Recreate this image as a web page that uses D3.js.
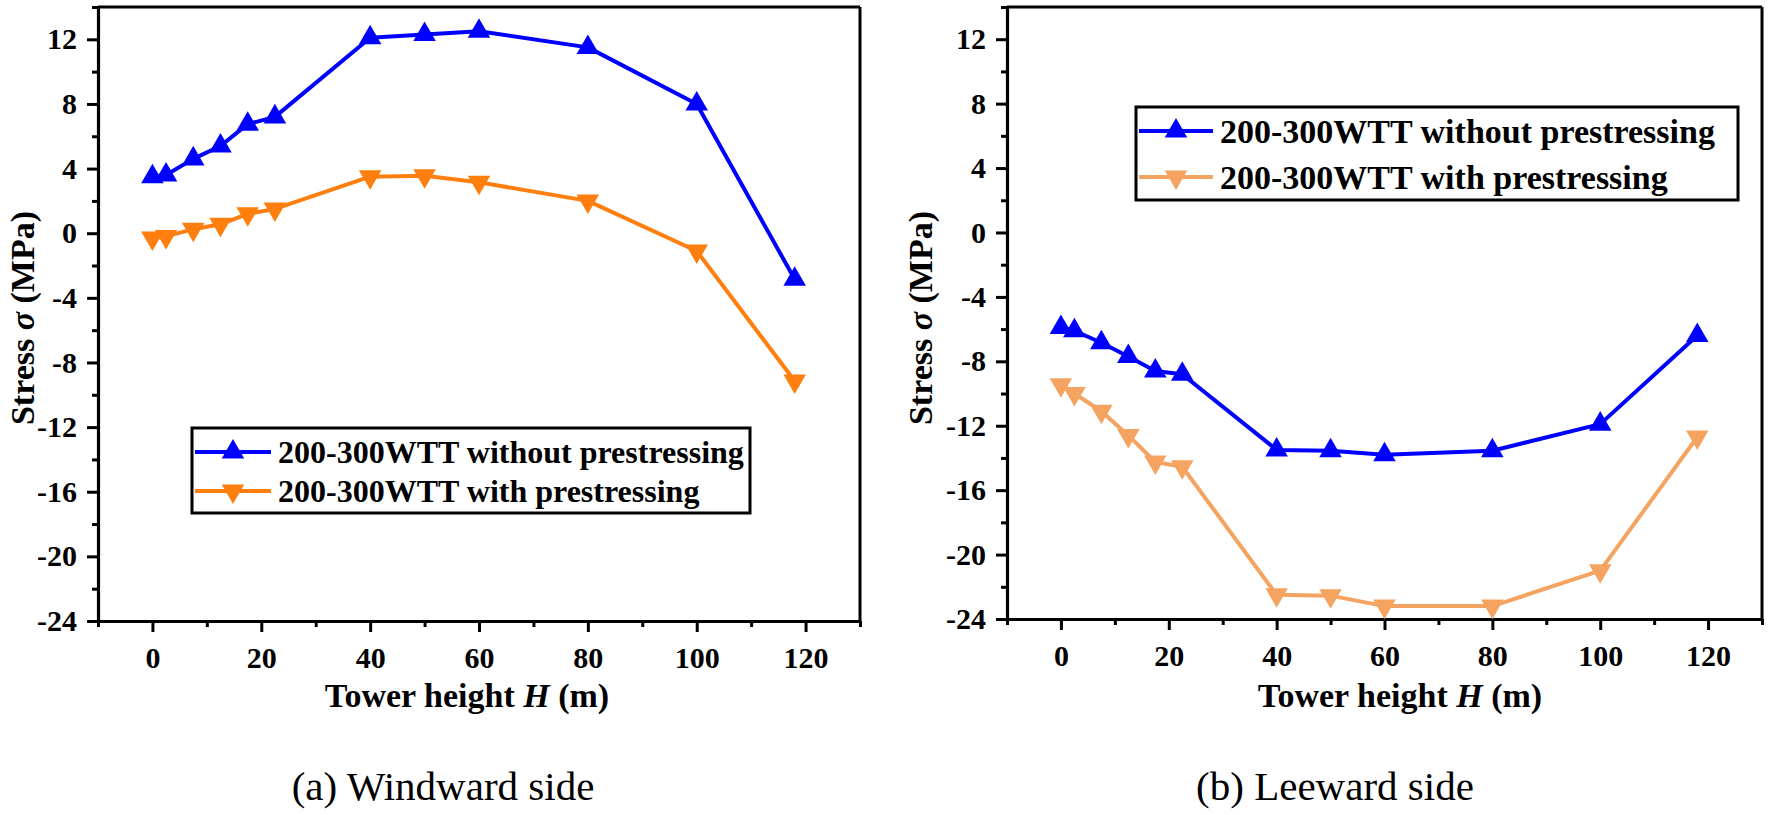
<!DOCTYPE html>
<html><head><meta charset="utf-8">
<script src="https://cdn.jsdelivr.net/npm/d3@7"></script>
<style>
html,body{margin:0;padding:0;background:#fff;}
svg{display:block;}
text{font-family:"Liberation Serif","Times New Roman",serif;}
</style></head>
<body>
<svg id="chart" width="1770" height="815"></svg>
<script>
// ---- data ----
const heights = [0, 2.5, 7.5, 12.5, 17.5, 22.5, 40, 50, 60, 80, 100, 118];
const windwardWithout = [3.5, 3.6, 4.6, 5.4, 6.75, 7.2, 12.1, 12.3, 12.5, 11.5, 8.0, -2.85];
const windwardWith = [-0.3, -0.2, 0.25, 0.55, 1.2, 1.5, 3.5, 3.55, 3.15, 2.0, -1.1, -9.15];
const leewardWithout = [-5.9, -6.1, -6.85, -7.7, -8.6, -8.8, -13.5, -13.55, -13.8, -13.55, -11.9, -6.4];
const leewardWith = [-9.45, -10.0, -11.1, -12.6, -14.25, -14.55, -22.5, -22.55, -23.2, -23.2, -21.0, -12.7];
const xTicks = [0, 20, 40, 60, 80, 100, 120];
const yTicks = [-24, -20, -16, -12, -8, -4, 0, 4, 8, 12];
const seriesNames = ["200-300WTT without prestressing", "200-300WTT with prestressing"];
const captions = ["(a) Windward side", "(b) Leeward side"];

const svg = d3.select("#chart");

function panel(o) {
  const x = d3.scaleLinear().domain([-10, 130]).range([o.left, o.right]);
  const y = d3.scaleLinear().domain([-24, 14]).range([o.bottom, o.top]);
  const g = svg.append("g");

  // frame top/right
  g.append("line").attr("x1", o.left).attr("x2", o.right).attr("y1", o.top).attr("y2", o.top)
    .attr("stroke", "#000").attr("stroke-width", 3);
  g.append("line").attr("x1", o.right).attr("x2", o.right).attr("y1", o.top).attr("y2", o.bottom)
    .attr("stroke", "#000").attr("stroke-width", 3);

  // minor ticks
  const xMinor = d3.range(-10, 131, 10).filter(v => xTicks.indexOf(v) < 0);
  const yMinor = d3.range(-24, 15, 2).filter(v => yTicks.indexOf(v) < 0);
  g.append("g").attr("transform", `translate(0,${o.bottom})`)
    .call(d3.axisBottom(x).tickValues(xMinor).tickSize(6).tickFormat(""))
    .call(s => { s.select(".domain").remove(); s.selectAll("line").attr("stroke-width", 3); });
  g.append("g").attr("transform", `translate(${o.left},0)`)
    .call(d3.axisLeft(y).tickValues(yMinor).tickSize(6).tickFormat(""))
    .call(s => { s.select(".domain").remove(); s.selectAll("line").attr("stroke-width", 3); });

  // major axes
  const xa = g.append("g").attr("transform", `translate(0,${o.bottom})`)
    .call(d3.axisBottom(x).tickValues(xTicks).tickSize(11).tickSizeOuter(0).tickPadding(15));
  const ya = g.append("g").attr("transform", `translate(${o.left},0)`)
    .call(d3.axisLeft(y).tickValues(yTicks).tickSize(11).tickSizeOuter(0).tickPadding(10)
      .tickFormat(d => d < 0 ? "-" + Math.abs(d) : d));
  [xa, ya].forEach(a => {
    a.select(".domain").attr("stroke-width", 3.2);
    a.selectAll("line").attr("stroke-width", 3);
    a.selectAll("text").attr("font-weight", "bold").attr("font-size", 30).attr("fill", "#000");
  });

  // series
  const line = d3.line().x((d, i) => x(heights[i])).y(d => y(d));
  const sym = d3.symbol().type(d3.symbolTriangle).size(220);
  o.series.forEach((s, k) => {
    g.append("path").datum(s.values).attr("d", line).attr("fill", "none")
      .attr("stroke", s.color).attr("stroke-width", 4).attr("stroke-linejoin", "round");
    g.selectAll(null).data(s.values).enter().append("path")
      .attr("d", sym).attr("fill", s.color)
      .attr("transform", (d, i) => `translate(${x(heights[i])},${y(d)})` + (k === 1 ? " rotate(180)" : ""));
  });

  // legend
  const L = o.legend;
  g.append("rect").attr("x", L.x).attr("y", L.y).attr("width", L.w).attr("height", L.h)
    .attr("fill", "#fff").attr("stroke", "#000").attr("stroke-width", 3);
  o.series.forEach((s, k) => {
    const cy = L.y + L.rowY[k];
    g.append("line").attr("x1", L.x + 3).attr("x2", L.x + 3 + L.lineLen).attr("y1", cy).attr("y2", cy)
      .attr("stroke", s.color).attr("stroke-width", 4);
    g.append("path").attr("d", sym).attr("fill", s.color)
      .attr("transform", `translate(${L.x + 3 + L.lineLen / 2},${cy})` + (k === 1 ? " rotate(180)" : ""));
    g.append("text").attr("x", L.x + L.lineLen + 10).attr("y", cy).attr("dy", "0.35em")
      .attr("font-weight", "bold").attr("font-size", L.fs).attr("fill", "#000").text(seriesNames[k]);
  });

  // axis titles
  const xt = g.append("text").attr("x", o.xTitleX).attr("y", 707).attr("text-anchor", "middle")
    .attr("font-weight", "bold").attr("font-size", 34).attr("fill", "#000");
  xt.append("tspan").text("Tower height ");
  xt.append("tspan").attr("font-style", "italic").text("H");
  xt.append("tspan").text(" (m)");

  const yt = g.append("text").attr("transform", `translate(${o.yTitleX},${o.yTitleY}) rotate(-90)`)
    .attr("text-anchor", "middle").attr("font-weight", "bold").attr("font-size", 34).attr("fill", "#000");
  yt.append("tspan").text("Stress ");
  yt.append("tspan").attr("font-style", "italic").text("σ");
  yt.append("tspan").text(" (MPa)");

  g.append("text").attr("x", o.capX).attr("y", 800).attr("text-anchor", "middle")
    .attr("font-size", 41).attr("fill", "#000").text(o.caption);
}

panel({
  left: 98, right: 860, top: 7, bottom: 621,
  series: [{ values: windwardWithout, color: "#0000FF" }, { values: windwardWith, color: "#FF7F0E" }],
  legend: { x: 192, y: 428, w: 558, h: 85, rowY: [24, 63], lineLen: 76, fs: 32 },
  xTitleX: 467, yTitleX: 34, yTitleY: 318, capX: 443, caption: captions[0]
});
panel({
  left: 1007, right: 1762, top: 7, bottom: 619,
  series: [{ values: leewardWithout, color: "#0000FF" }, { values: leewardWith, color: "#F4A460" }],
  legend: { x: 1136, y: 107, w: 602, h: 93, rowY: [24, 70], lineLen: 74, fs: 34 },
  xTitleX: 1400, yTitleX: 932, yTitleY: 318, capX: 1335, caption: captions[1]
});
</script>
</body></html>
